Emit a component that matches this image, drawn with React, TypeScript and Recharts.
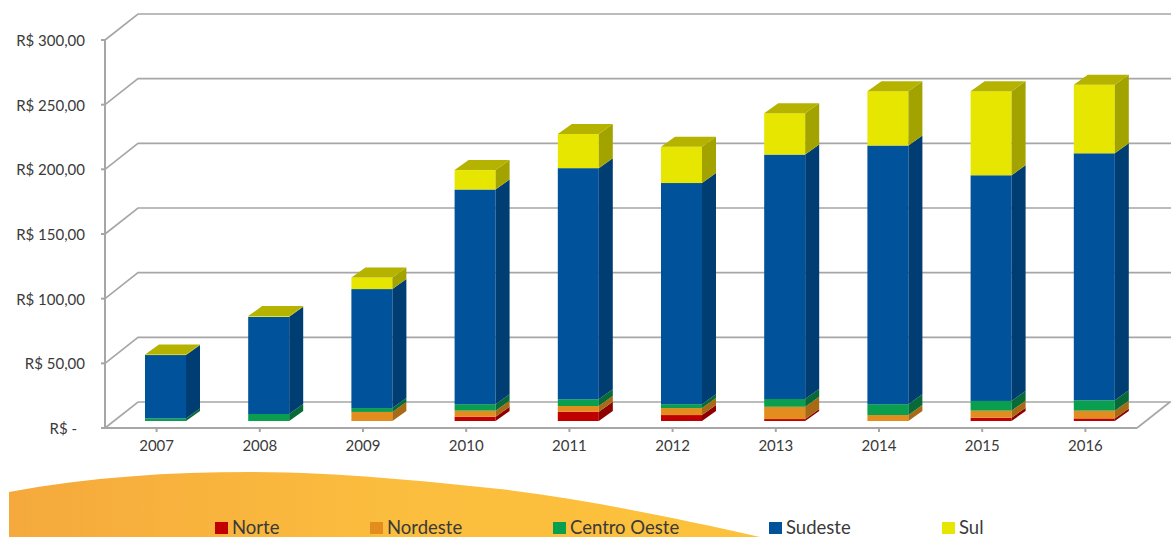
import React from 'react';
import { BarChart, Bar, XAxis, YAxis, CartesianGrid } from 'recharts';

const years = ['2007', '2008', '2009', '2010', '2011', '2012', '2013', '2014', '2015', '2016'];
const norte = [0, 0, 0, 3.3, 7.2, 4.6, 1.5, 0, 2.5, 2];
const nordeste = [0, 0, 7, 4.7, 4.4, 5.4, 9.5, 4.6, 5.5, 6];
const centroOeste = [2, 5.4, 3, 5, 5.2, 3, 6, 8.4, 7.5, 8];
const sudeste = [49, 75.2, 92, 166, 178.7, 171, 189, 200, 174.5, 191];
const sul = [0.5, 0.5, 9, 15, 26.5, 28, 32, 42, 65, 53];
const yTicks = [0, 50, 100, 150, 200, 250, 300];

const data = years.map((year, i) => ({
    year,
    norte: norte[i],
    nordeste: nordeste[i],
    centroOeste: centroOeste[i],
    sudeste: sudeste[i],
    sul: sul[i],
}));

const series = [
    { key: 'norte', name: 'Norte', fill: '#c00000', side: '#8f0000', legendX: 215 },
    { key: 'nordeste', name: 'Nordeste', fill: '#e38d1e', side: '#a96a15', legendX: 370 },
    { key: 'centroOeste', name: 'Centro Oeste', fill: '#0a9e4f', side: '#076b38', legendX: 553 },
    { key: 'sudeste', name: 'Sudeste', fill: '#00529b', side: '#003d73', legendX: 769 },
    { key: 'sul', name: 'Sul', fill: '#e6e600', side: '#a3a300', legendX: 942 },
];

const AXIS_COLOR = '#a6a6a6';
const TEXT_COLOR = '#3a3a3a';
const FONT = 'Lato, "Open Sans", sans-serif';
const PLOT_BOTTOM = 428;
// depth of the fake 3D floor, and of the bars standing on it
const WALL_DX = 33;
const WALL_DY = -26;
const BAR_SHIFT_X = 9;
const BAR_SHIFT_Y = -7;
const BAR_DX = 14;
const BAR_DY = -10;
const TOP_COLOR = '#b5b300';

function makeBarShape(sideColor: string, withTop: boolean) {
    return function BarShape(props: any) {
        const { x, y, width, height, fill } = props;
        const left = x + BAR_SHIFT_X;
        const right = left + width;
        const top = y + BAR_SHIFT_Y;
        const bottom = top + height;
        if (!(height > 0)) return null;
        return (
            <g>
                <rect x={left} y={top} width={width} height={height} fill={fill} />
                <polygon
                    points={`${right},${top} ${right + BAR_DX},${top + BAR_DY} ${right + BAR_DX},${bottom + BAR_DY} ${right},${bottom}`}
                    fill={sideColor}
                />
                {withTop && (
                    <polygon
                        points={`${left},${top} ${left + BAR_DX},${top + BAR_DY} ${right + BAR_DX},${top + BAR_DY} ${right},${top}`}
                        fill={TOP_COLOR}
                    />
                )}
            </g>
        );
    };
}

function WallLine(props: any) {
    const { x1, x2, y1, key } = props;
    const backX = x1 + WALL_DX;
    const backY = y1 + WALL_DY;
    return (
        <g key={key ?? y1}>
            <polyline
                points={`${x1},${y1} ${backX},${backY} 1171,${backY}`}
                fill="none"
                stroke={AXIS_COLOR}
                strokeWidth={1.6}
            />
            {Math.abs(y1 - PLOT_BOTTOM) < 1 && (
                <line x1={x2} y1={y1} x2={x2 + WALL_DX} y2={backY} stroke={AXIS_COLOR} strokeWidth={1.6} />
            )}
        </g>
    );
}

function MoneyTick(props: any) {
    const { x, y, payload } = props;
    const isZero = payload.value === 0;
    return (
        <text
            x={isZero ? x - 8 : x}
            y={y + 6}
            textAnchor="end"
            fontFamily={FONT}
            fontSize={15}
            fill={TEXT_COLOR}
        >
            {isZero ? 'R$ -' : `R$ ${payload.value},00`}
        </text>
    );
}

export default function App() {
    return (
        <div style={{ position: 'absolute', left: 0, top: 0, width: 1171, height: 537, overflow: 'hidden', background: '#fff' }}>
            <svg width={1171} height={537} style={{ position: 'absolute', left: 0, top: 0 }}>
                <defs>
                    <linearGradient id="swoosh" x1="0" y1="0" x2="1" y2="0">
                        <stop offset="0%" stopColor="#f5a93c" />
                        <stop offset="50%" stopColor="#fbbd3e" />
                        <stop offset="100%" stopColor="#fcc23c" />
                    </linearGradient>
                </defs>
                <path
                    d="M9 492 C 90 477, 170 472, 250 472 C 340 472, 420 481, 500 489 C 590 500, 680 519, 760 537 L 9 537 Z"
                    fill="url(#swoosh)"
                />
            </svg>
            <div style={{ position: 'absolute', left: 0, top: 0 }}>
                <BarChart
                    width={1171}
                    height={537}
                    data={data}
                    barSize={41}
                    margin={{ top: 40, right: 34, bottom: 79, left: 0 }}
                >
                    <CartesianGrid vertical={false} horizontal={WallLine as any} />
                    <XAxis
                        dataKey="year"
                        height={30}
                        stroke={AXIS_COLOR}
                        strokeWidth={2}
                        tickSize={4}
                        tickMargin={8}
                        tick={{ fontFamily: FONT, fontSize: 15, fill: TEXT_COLOR }}
                        interval={0}
                    />
                    <YAxis
                        width={105}
                        domain={[0, 300]}
                        ticks={yTicks}
                        stroke={AXIS_COLOR}
                        strokeWidth={2}
                        tickSize={4}
                        tickMargin={16}
                        tick={MoneyTick as any}
                        interval={0}
                    />
                    {series.map((s, i) => (
                        <Bar
                            key={s.key}
                            dataKey={s.key}
                            name={s.name}
                            stackId="regiao"
                            fill={s.fill}
                            isAnimationActive={false}
                            shape={makeBarShape(s.side, i === series.length - 1) as any}
                        />
                    ))}
                </BarChart>
            </div>
            {series.map((s) => (
                <div
                    key={s.key}
                    style={{
                        position: 'absolute',
                        left: s.legendX,
                        top: 518,
                        display: 'flex',
                        alignItems: 'center',
                        fontFamily: FONT,
                        fontSize: 18.5,
                        lineHeight: '19px',
                        color: TEXT_COLOR,
                        whiteSpace: 'nowrap',
                    }}
                >
                    <span style={{ width: 13, height: 12, background: s.fill, marginRight: 4 }} />
                    {s.name}
                </div>
            ))}
        </div>
    );
}
